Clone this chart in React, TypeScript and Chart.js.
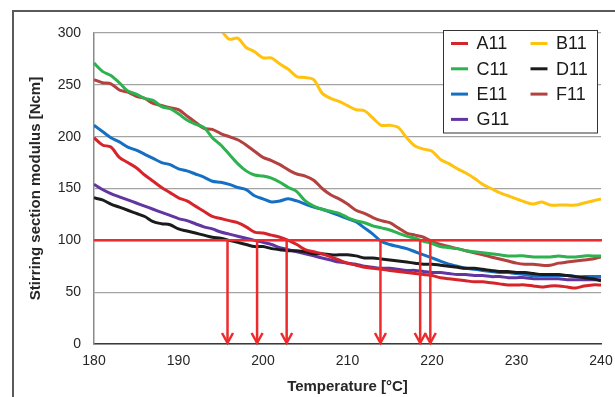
import React, { useEffect, useRef } from "react";
import { Chart, registerables } from "chart.js";

Chart.register(...registerables);

const temps = [
  180, 181, 182, 183, 184, 185, 186, 187, 188, 189, 190, 191, 192, 193, 194, 195, 196, 197, 198, 199,
  200, 201, 202, 203, 204, 205, 206, 207, 208, 209, 210, 211, 212, 213, 214, 215, 216, 217, 218, 219,
  220, 221, 222, 223, 224, 225, 226, 227, 228, 229, 230, 231, 232, 233, 234, 235, 236, 237, 238, 239, 240,
];

const A11 = [
  199, 192, 190, 180, 175, 170, 163, 157, 151, 146, 141, 138, 133, 128, 123, 121, 119, 117, 113, 108,
  107, 105, 103, 100, 96, 91, 89, 87, 84, 81, 78, 76, 74, 73, 72, 71, 70, 69, 68, 67,
  66, 64, 63, 62, 61, 60, 60, 59, 58, 57, 57, 57, 56, 55, 56, 56, 55, 54, 56, 57, 57,
];
const B11 = [
  null, null, null, null, null, null, null, null, null, null, null, null, null, null, null, 303, 294, 295, 286, 282,
  276, 276, 270, 265, 258, 257, 255, 242, 237, 234, 230, 226, 225, 218, 211, 211, 209, 199, 191, 188,
  186, 178, 174, 169, 165, 160, 154, 150, 146, 143, 140, 137, 135, 137, 134, 134, 134, 134, 136, 138, 140,
];
const C11 = [
  271, 263, 259, 252, 244, 241, 237, 235, 229, 227, 222, 216, 212, 209, 199, 192, 183, 174, 167, 163,
  162, 160, 156, 151, 147, 138, 133, 130, 128, 126, 122, 119, 117, 114, 112, 110, 107, 104, 102, 99,
  97, 94, 93, 92, 90, 89, 88, 87, 86, 85, 85, 85, 84, 84, 84, 85, 84, 84, 85, 85, 85,
];
const D11 = [
  141, 139, 135, 132, 129, 126, 123, 118, 116, 115, 111, 109, 107, 105, 103, 102, 100, 98, 96, 94,
  94, 92, 91, 90, 90, 89, 87, 87, 86, 86, 86, 85, 83, 83, 82, 81, 80, 79, 78, 77,
  77, 76, 75, 74, 73, 73, 72, 71, 70, 70, 69, 69, 68, 67, 67, 67, 66, 65, 64, 63, 61,
];
const E11 = [
  211, 205, 199, 195, 190, 187, 183, 179, 175, 173, 169, 167, 164, 161, 157, 156, 154, 151, 149, 143,
  140, 137, 138, 140, 138, 135, 132, 130, 127, 124, 121, 118, 112, 106, 99, 96, 94, 92, 89, 86,
  83, 80, 77, 75, 73, 72, 71, 70, 69, 69, 68, 67, 66, 66, 66, 66, 66, 65, 65, 65, 65,
];
const F11 = [
  255, 252, 251, 245, 243, 239, 237, 232, 230, 228, 226, 220, 214, 208, 207, 203, 200, 197, 192, 186,
  180, 177, 173, 168, 164, 162, 158, 150, 144, 140, 135, 129, 126, 122, 119, 117, 112, 107, 105, 103,
  99, 96, 94, 92, 90, 88, 86, 84, 82, 80, 78, 77, 77, 76, 76, 78, 79, 80, 81, 82, 84,
];
const G11 = [
  154, 149, 145, 142, 139, 136, 133, 130, 127, 124, 121, 119, 116, 113, 111, 108, 106, 104, 102, 100,
  98, 96, 93, 91, 89, 87, 85, 83, 81, 79, 78, 77, 75, 74, 73, 73, 72, 71, 71, 70,
  69, 69, 68, 67, 67, 66, 66, 65, 65, 64, 64, 64, 63, 63, 63, 63, 62, 62, 62, 62, 62,
];

const seriesNames = ["A11", "B11", "C11", "D11", "E11", "F11", "G11"];
const seriesValues = [A11, B11, C11, D11, E11, F11, G11];
const seriesColors = ["#d7242b", "#ffc20e", "#2eb14f", "#1b1b1b", "#156fc2", "#b3413f", "#6236a0"];

const thresholdValue = 100;
const arrowTemps = [195.8, 199.3, 202.8, 213.9, 218.6, 219.8];

const yTicks = [0, 50, 100, 150, 200, 250, 300];
const xTicks = [180, 190, 200, 210, 220, 230, 240];

const FONT = '"Liberation Sans", Arial, Helvetica, sans-serif';
const RED = "#ef2a2c";

const framePlugin = {
  id: "frame",
  beforeDraw(chart: any) {
    const ctx = chart.ctx;
    ctx.save();
    ctx.fillStyle = "#ffffff";
    ctx.fillRect(0, 0, chart.width, chart.height);
    ctx.strokeStyle = "#5a5a5a";
    ctx.lineWidth = 2;
    ctx.beginPath();
    ctx.moveTo(13, chart.height + 2);
    ctx.lineTo(13, 11);
    ctx.lineTo(chart.width + 2, 11);
    ctx.stroke();
    ctx.restore();
  },
};

const arrowPlugin = {
  id: "arrows",
  afterDatasetsDraw(chart: any) {
    const ctx = chart.ctx;
    const xs = chart.scales.x;
    const ys = chart.scales.y;
    const yTop = ys.getPixelForValue(thresholdValue);
    const yBot = ys.getPixelForValue(0);
    ctx.save();
    ctx.strokeStyle = RED;
    ctx.lineWidth = 2.5;
    ctx.lineCap = "butt";
    ctx.beginPath();
    ctx.moveTo(chart.chartArea.left, yTop);
    ctx.lineTo(chart.chartArea.right + 1, yTop);
    ctx.stroke();
    arrowTemps.forEach((t) => {
      const x = xs.getPixelForValue(t);
      ctx.beginPath();
      ctx.moveTo(x, yTop);
      ctx.lineTo(x, yBot - 1);
      ctx.stroke();
      ctx.beginPath();
      ctx.moveTo(x - 5.5, yBot - 11);
      ctx.lineTo(x, yBot - 1);
      ctx.lineTo(x + 5.5, yBot - 11);
      ctx.stroke();
    });
    ctx.restore();
  },
};

const legendPlugin = {
  id: "boxLegend",
  afterDraw(chart: any) {
    const ctx = chart.ctx;
    ctx.save();
    const bx = 443.5, by = 30.5, bw = 154, bh = 102.5;
    ctx.fillStyle = "#ffffff";
    ctx.fillRect(bx, by, bw, bh);
    ctx.strokeStyle = "#333333";
    ctx.lineWidth = 1;
    ctx.strokeRect(bx, by, bw, bh);
    ctx.font = `18px ${FONT}`;
    ctx.textBaseline = "middle";
    ctx.textAlign = "left";
    chart.data.datasets.forEach((ds: any, i: number) => {
      const col = i % 2;
      const row = Math.floor(i / 2);
      const x = 451 + col * 79.5;
      const y = 43.5 + row * 25.3;
      ctx.strokeStyle = ds.borderColor;
      ctx.lineWidth = 3;
      ctx.beginPath();
      ctx.moveTo(x, y);
      ctx.lineTo(x + 17, y);
      ctx.stroke();
      ctx.fillStyle = "#1a1a1a";
      ctx.fillText(ds.label, x + 25.5, y + 1);
    });
    ctx.restore();
  },
};

export default function App() {
  const canvasRef = useRef<HTMLCanvasElement | null>(null);

  useEffect(() => {
    const canvas = canvasRef.current;
    if (!canvas) return;
    const datasets = seriesNames.map((name, i) => ({
      label: name,
      data: temps.map((t, j) => ({ x: t, y: seriesValues[i][j] })),
      borderColor: seriesColors[i],
      backgroundColor: seriesColors[i],
      borderWidth: 3,
      pointRadius: 0,
      tension: 0.3,
      spanGaps: false,
    }));

    const chart = new Chart(canvas, {
      type: "line",
      data: { datasets },
      plugins: [framePlugin, arrowPlugin, legendPlugin],
      options: {
        animation: false,
        responsive: false,
        devicePixelRatio: 1,
        layout: { padding: { left: 0, right: 14, top: 33, bottom: 0 } },
        plugins: {
          legend: { display: false },
          tooltip: { enabled: false },
          title: { display: false },
        },
        scales: {
          x: {
            type: "linear",
            min: 180,
            max: 240,
            afterFit: (s: any) => {
              s.height = 53;
              s.paddingLeft = 0;
              s.paddingRight = 0;
            },
            afterBuildTicks: (s: any) => {
              s.ticks = xTicks.map((v) => ({ value: v }));
            },
            grid: { display: false, drawTicks: false },
            border: { display: true, color: "#3a3a3a", width: 1.5 },
            ticks: {
              padding: 9,
              color: "#262626",
              font: { family: FONT, size: 14 },
              maxRotation: 0,
            },
            title: {
              display: true,
              text: "Temperature [°C]",
              color: "#262626",
              font: { family: FONT, size: 15, weight: "bold" },
              padding: { top: 0, bottom: 1 },
            },
          },
          y: {
            type: "linear",
            min: 0,
            max: 300,
            afterFit: (s: any) => {
              s.width = 94;
              s.paddingTop = 0;
              s.paddingBottom = 0;
            },
            afterBuildTicks: (s: any) => {
              s.ticks = yTicks.map((v) => ({ value: v }));
            },
            grid: { display: true, color: "#a3a3a3", lineWidth: 1.3, drawTicks: false },
            border: { display: true, color: "#8a8a8a", width: 1.5 },
            ticks: {
              padding: 13,
              color: "#262626",
              font: { family: FONT, size: 14 },
            },
            title: {
              display: true,
              text: "Stirring section modulus [Ncm]",
              color: "#262626",
              font: { family: FONT, size: 15, weight: "bold" },
              padding: { top: 27, bottom: 0 },
            },
          },
        },
      },
    });
    return () => chart.destroy();
  }, []);

  return (
    <div style={{ position: "absolute", left: 0, top: 0, width: 615, height: 397, background: "#fff" }}>
      <canvas ref={canvasRef} width={615} height={397} style={{ display: "block" }} />
    </div>
  );
}
